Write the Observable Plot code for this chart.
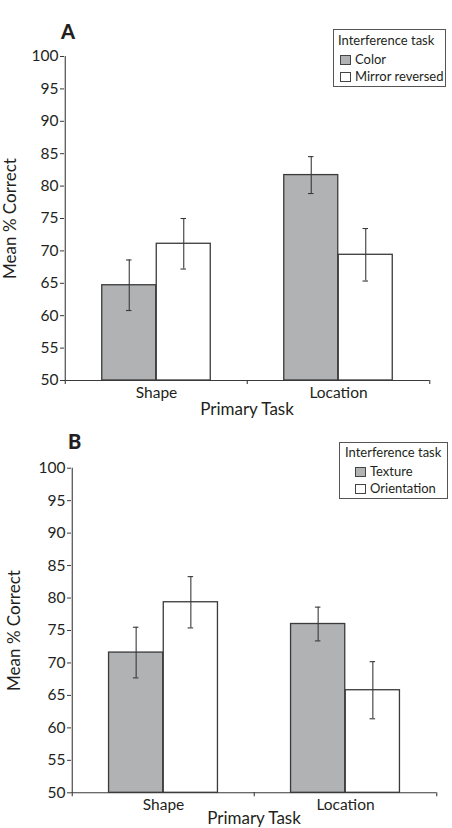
<!DOCTYPE html>
<html><head><meta charset="utf-8">
<script src="https://cdn.jsdelivr.net/npm/d3@7"></script>
<script src="https://cdn.jsdelivr.net/npm/@observablehq/plot@0.6"></script>
<style>
body{margin:0;background:#fff;font-family:Lato,"Open Sans",sans-serif;color:#231f20}
#fig{position:relative;width:452px;height:828px;overflow:hidden}
.panel{position:absolute;left:0}
.panel [aria-label="x-axis label"], .panel [aria-label="y-axis label"]{font-size:17px}
.tag{position:absolute;font-weight:900;font-size:20px;line-height:20px}
.legend{position:absolute;box-sizing:border-box;border:1.3px solid #555;background:#fff;font-size:13px}
.legend .t{position:absolute;white-space:nowrap}
.legend .row{position:absolute;white-space:nowrap}
.sw{display:inline-block;box-sizing:border-box;width:11px;height:10px;border:1px solid #444;margin-right:4px;vertical-align:-1px}
</style></head>
<body>
<div id="fig"></div>
<script>
// ---------- data ----------
const primaryTasks = ["Shape", "Location"];
const yTicks = [50, 55, 60, 65, 70, 75, 80, 85, 90, 95, 100];

const seriesA = ["Color", "Mirror reversed"];
const primaryA = ["Shape", "Shape", "Location", "Location"];
const interferenceA = ["Color", "Mirror reversed", "Color", "Mirror reversed"];
const meanA = [64.7, 71.1, 81.7, 69.4];
const errA = [3.9, 3.9, 2.85, 4.05];

const seriesB = ["Texture", "Orientation"];
const primaryB = ["Shape", "Shape", "Location", "Location"];
const interferenceB = ["Texture", "Orientation", "Texture", "Orientation"];
const meanB = [71.6, 79.35, 76.0, 65.8];
const errB = [3.9, 3.95, 2.6, 4.4];

const fills = ["#b1b2b3", "#ffffff"];
const ink = "#3a3a3a";

function panel(cfg) {
  const W = 452;
  const {primary, interference, mean, err, series, ml, mr, mt, mb, h, barW, labelOffsetY, labelOffsetX} = cfg;
  const bw = (W - ml - mr) / primaryTasks.length;
  const data = mean.map((m, i) => ({p: primary[i], s: interference[i], k: series.indexOf(interference[i]), m, lo: m - err[i], hi: m + err[i]}));
  const marks = [];
  series.forEach((s, k) => {
    const sub = data.filter(d => d.k === k);
    const insetLeft = bw / 2 - barW + k * barW;
    const insetRight = bw - barW - insetLeft;
    marks.push(Plot.barY(sub, {x: "p", y1: 50, y2: "m", fill: fills[k], stroke: ink, strokeWidth: 1.3, insetLeft, insetRight}));
  });
  series.forEach((s, k) => {
    const sub = data.filter(d => d.k === k);
    const cx = (k - 0.5) * barW;
    marks.push(Plot.ruleX(sub, {x: "p", y1: "lo", y2: "hi", dx: cx, stroke: ink, strokeWidth: 1.1}));
    for (const key of ["lo", "hi"]) {
      marks.push(Plot.ruleY(sub, {y: key, x1: "p", x2: "p", insetLeft: bw / 2 + cx - 3, insetRight: bw / 2 - cx - 3, stroke: ink, strokeWidth: 1.1}));
    }
  });
  // axes lines and boundary ticks
  marks.push(Plot.ruleY([50], {stroke: ink, strokeWidth: 1.1}));
  marks.push(Plot.ruleX([primaryTasks[0]], {x: d => d, y1: 50, y2: 100, dx: -bw / 2, stroke: ink, strokeWidth: 1.1}));
  marks.push(Plot.ruleX(primaryTasks, {x: d => d, y1: 50, y2: 50, dx: -bw / 2, insetBottom: -4, stroke: ink, strokeWidth: 1.1}));
  marks.push(Plot.ruleX([primaryTasks[primaryTasks.length - 1]], {x: d => d, y1: 50, y2: 50, dx: bw / 2, insetBottom: -4, stroke: ink, strokeWidth: 1.1}));
  marks.push(Plot.axisY({ticks: yTicks, tickSize: 4, tickPadding: 2, fontSize: 15.5, stroke: ink, tickFormat: d => d,
    label: "Mean % Correct", labelAnchor: "center", labelOffset: labelOffsetY, labelArrow: "none"}));
  marks.push(Plot.axisX({tickSize: 0, tickPadding: 6, fontSize: 15.5,
    label: "Primary Task", labelAnchor: "center", labelOffset: labelOffsetX}));
  return Plot.plot({
    width: W, height: h,
    marginLeft: ml, marginRight: mr, marginTop: mt, marginBottom: mb,
    style: {fontFamily: "Lato, 'Open Sans', sans-serif", color: "#231f20", background: "transparent", overflow: "visible"},
    x: {type: "band", domain: primaryTasks, padding: 0},
    y: {domain: [50, 100]},
    marks
  });
}

function legend(cfg) {
  const el = document.createElement("div");
  el.className = "legend";
  Object.assign(el.style, {left: cfg.left + "px", top: cfg.top + "px", width: cfg.w + "px", height: cfg.h + "px"});
  const t = document.createElement("div");
  t.className = "t"; t.textContent = "Interference task";
  Object.assign(t.style, {left: cfg.titleX + "px", top: cfg.titleY + "px"});
  el.appendChild(t);
  cfg.series.forEach((s, k) => {
    const r = document.createElement("div");
    r.className = "row";
    Object.assign(r.style, {left: cfg.rowX + "px", top: (cfg.rowY + k * cfg.rowH) + "px"});
    const sw = document.createElement("span");
    sw.className = "sw"; sw.style.background = fills[k];
    r.appendChild(sw);
    r.appendChild(document.createTextNode(s));
    el.appendChild(r);
  });
  return el;
}

const fig = document.getElementById("fig");

const pA = panel({primary: primaryA, interference: interferenceA, mean: meanA, err: errA, series: seriesA,
  ml: 64, mr: 23, mt: 56, mb: 40, h: 420, barW: 54.5, labelOffsetY: 61, labelOffsetX: 34});
pA.classList.add("panel"); pA.style.top = "0px";
fig.appendChild(pA);

const pB = panel({primary: primaryB, interference: interferenceB, mean: meanB, err: errB, series: seriesB,
  ml: 71, mr: 16, mt: 47.7, mb: 35.7, h: 408, barW: 54.7, labelOffsetY: 64, labelOffsetX: 31});
pB.classList.add("panel"); pB.style.top = "420px";
fig.appendChild(pB);

const tA = document.createElement("div"); tA.className = "tag"; tA.textContent = "A";
Object.assign(tA.style, {left: "61px", top: "21px"}); fig.appendChild(tA);
const tB = document.createElement("div"); tB.className = "tag"; tB.textContent = "B";
Object.assign(tB.style, {left: "68px", top: "431px"}); fig.appendChild(tB);

fig.appendChild(legend({series: seriesA, left: 333, top: 29, w: 113, h: 58, titleX: 4, titleY: 2, rowX: 6, rowY: 21, rowH: 16.5}));
fig.appendChild(legend({series: seriesB, left: 339, top: 442, w: 109, h: 57, titleX: 5, titleY: 1, rowX: 15, rowY: 20, rowH: 16.5}));
</script>
</body></html>
